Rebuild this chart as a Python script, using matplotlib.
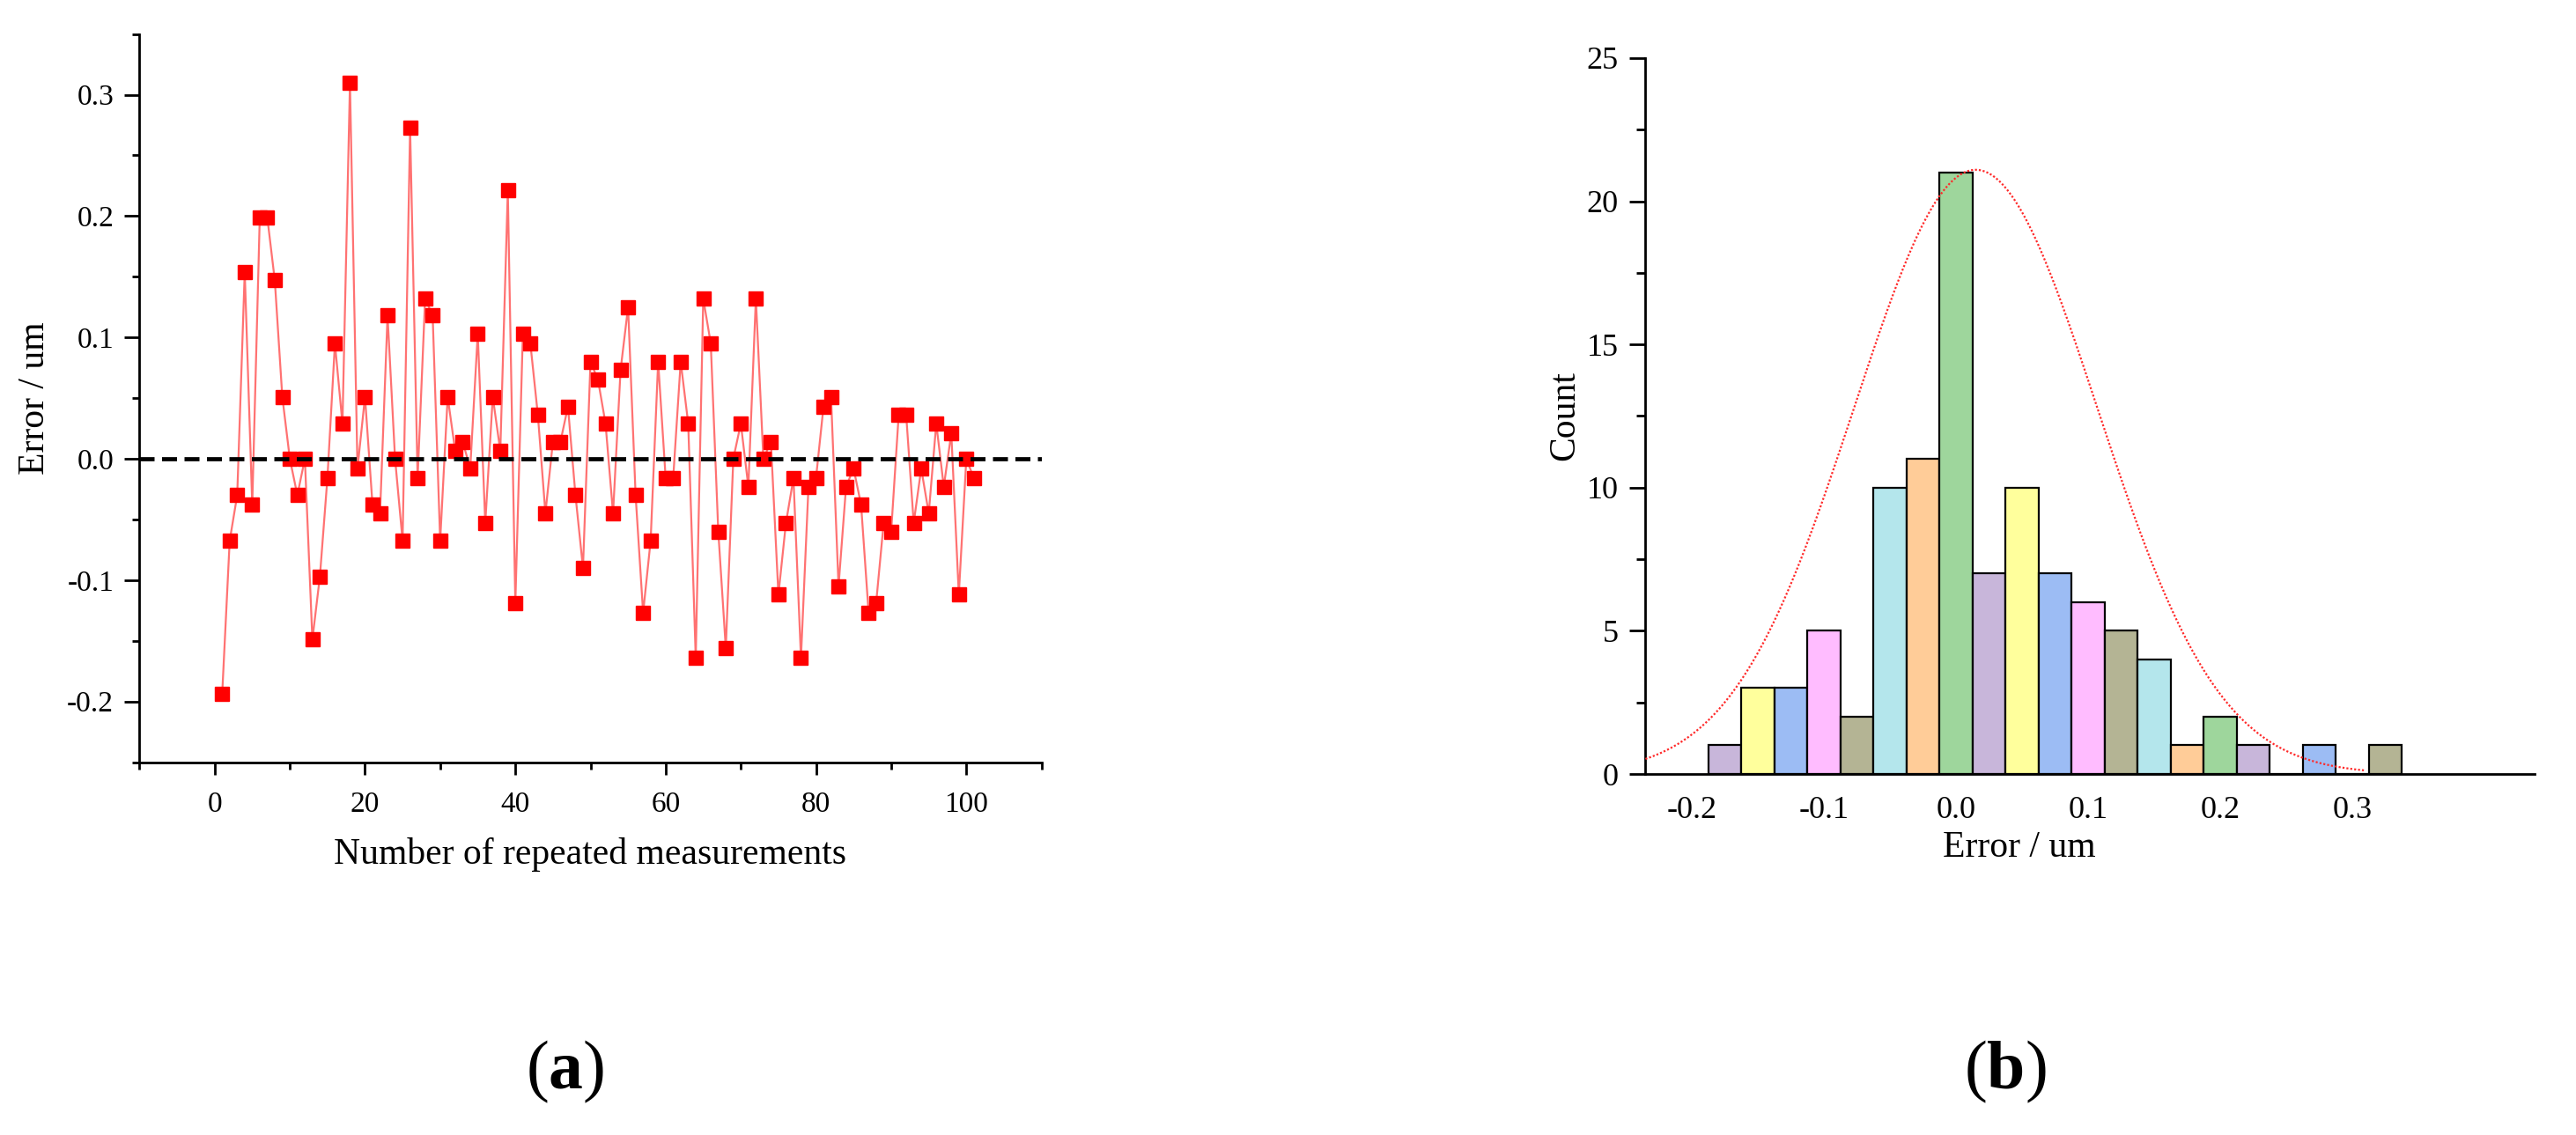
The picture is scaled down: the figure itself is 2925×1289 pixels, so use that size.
import numpy as np
import matplotlib
matplotlib.use("Agg")
import matplotlib.pyplot as plt
from matplotlib.ticker import MultipleLocator, FixedLocator

# ---------------- data ----------------
measurement_index = list(range(1, 102))
errors = [
    -0.194, -0.0675, -0.030, 0.154, -0.038, 0.199, 0.199, 0.147, 0.051, 0.0,
    -0.030, 0.0, -0.149, -0.097, -0.016, 0.095, 0.029, 0.310, -0.008, 0.051,
    -0.038, -0.045, 0.118, 0.0, -0.0675, 0.273, -0.016, 0.132, 0.118, -0.0675,
    0.051, 0.0065, 0.014, -0.008, 0.103, -0.053, 0.051, 0.0065, 0.221, -0.119,
    0.103, 0.095, 0.036, -0.045, 0.014, 0.014, 0.043, -0.030, -0.090, 0.080,
    0.065, 0.029, -0.045, 0.073, 0.125, -0.030, -0.127, -0.0675, 0.080, -0.016,
    -0.016, 0.080, 0.029, -0.164, 0.132, 0.095, -0.060, -0.156, 0.0, 0.029,
    -0.023, 0.132, 0.0, 0.014, -0.112, -0.053, -0.016, -0.164, -0.023, -0.016,
    0.043, 0.051, -0.105, -0.023, -0.008, -0.038, -0.127, -0.119, -0.053, -0.060,
    0.036, 0.036, -0.053, -0.008, -0.045, 0.029, -0.023, 0.021, -0.112, 0.0,
    -0.016,
]

bin_centers = [-0.175, -0.15, -0.125, -0.1, -0.075, -0.05, -0.025, 0.0, 0.025,
               0.05, 0.075, 0.1, 0.125, 0.15, 0.175, 0.2, 0.225, 0.25, 0.275,
               0.3, 0.325]
bin_counts = [1, 3, 3, 5, 2, 10, 11, 21, 7, 10, 7, 6, 5, 4, 1, 2, 1, 0, 1, 0, 1]
bin_width = 0.025
bar_colors = ["#C8B6DA", "#FFFF9C", "#9CBCF4", "#FFBCFF",
              "#B4B494", "#B4E6EC", "#FFCC98", "#9ED69C"]

# normal-curve parameters
fit_mean = 0.015
fit_sigma = 0.092
fit_peak = 21.1
fit_start, fit_end = -0.235, 0.309

left_xticks = [0, 20, 40, 60, 80, 100]
left_yticks = [-0.2, -0.1, 0.0, 0.1, 0.2, 0.3]
right_xticks = [-0.2, -0.1, 0.0, 0.1, 0.2, 0.3]
right_yticks = [0, 5, 10, 15, 20, 25]

# ---------------- style ----------------
plt.rcParams["font.family"] = ["Liberation Serif", "DejaVu Serif"]
plt.rcParams["mathtext.fontset"] = "custom"
plt.rcParams["mathtext.rm"] = "Liberation Serif"
plt.rcParams["mathtext.bf"] = "Liberation Serif:bold"

W, H = 2925, 1289
fig = plt.figure(figsize=(W / 100, H / 100), dpi=100)

# ---------------- panel (a) ----------------
ax1 = fig.add_axes([158.4 / W, 1 - 865.5 / H, (1182.6 - 158.4) / W, (865.5 - 38.7) / H])
ax1.plot(measurement_index, errors, color="#ff7272", lw=1.6, zorder=2)
ax1.plot(measurement_index, errors, ls="none", marker="s", ms=11,
         color="#ff0000", mec="#ff0000", zorder=3)
ax1.axhline(0, color="black", lw=3.4, dashes=(3.6, 1.8), zorder=4)

ax1.set_xlim(-10, 110)
ax1.set_ylim(-0.25, 0.35)
ax1.xaxis.set_major_locator(FixedLocator(left_xticks))
ax1.xaxis.set_minor_locator(MultipleLocator(10))
ax1.yaxis.set_major_locator(FixedLocator(left_yticks))
ax1.yaxis.set_minor_locator(MultipleLocator(0.05))
ax1.set_yticklabels([f"{v:.1f}" for v in left_yticks])
for s in ("top", "right"):
    ax1.spines[s].set_visible(False)
for s in ("left", "bottom"):
    ax1.spines[s].set_linewidth(2.0)
ax1.tick_params(axis="y", which="major", direction="out", length=12, width=2,
                labelsize=24, pad=9)
ax1.tick_params(axis="y", which="minor", direction="out", length=6, width=2)
ax1.tick_params(axis="x", which="major", direction="out", length=10, width=2,
                labelsize=24, pad=14)
ax1.tick_params(axis="x", which="minor", direction="out", length=6, width=2)

ax1.set_xlabel("Number of repeated measurements", fontsize=30)
ax1.xaxis.set_label_coords(0.5, -0.1264)
ax1.xaxis.label.set_va("center")
ax1.set_ylabel("Error / um", fontsize=30)
ax1.yaxis.set_label_coords((40 - 158.4) / (1182.6 - 158.4), 0.5)
ax1.yaxis.label.set_va("center")

# ---------------- panel (b) ----------------
ax2 = fig.add_axes([1868.4 / W, 1 - 879 / H, (2877.8 - 1868.4) / W, (879 - 66) / H])
colors = [bar_colors[i % len(bar_colors)] for i in range(len(bin_counts))]
ax2.bar(bin_centers, bin_counts, width=bin_width, color=colors,
        edgecolor="black", linewidth=1.6, zorder=2)
xs = np.linspace(fit_start, fit_end, 400)
ys = fit_peak * np.exp(-0.5 * ((xs - fit_mean) / fit_sigma) ** 2)
ax2.plot(xs, ys, color="#ff2a2a", lw=1.6, ls=(0, (1, 1)), zorder=3)

ax2.set_xlim(-0.235, 0.438)
ax2.set_ylim(0, 25)
ax2.xaxis.set_major_locator(FixedLocator(right_xticks))
ax2.set_xticklabels([f"{v:.1f}" for v in right_xticks])
ax2.yaxis.set_major_locator(FixedLocator(right_yticks))
ax2.yaxis.set_minor_locator(MultipleLocator(2.5))
for s in ("top", "right"):
    ax2.spines[s].set_visible(False)
for s in ("left", "bottom"):
    ax2.spines[s].set_linewidth(2.0)
ax2.tick_params(axis="x", which="both", length=0, labelsize=26, pad=18)
ax2.tick_params(axis="y", which="major", direction="out", length=13, width=2,
                labelsize=26, pad=9)
ax2.tick_params(axis="y", which="minor", direction="out", length=7, width=2)

ax2.set_xlabel("Error / um", fontsize=30)
ax2.xaxis.set_label_coords((2293 - 1868.4) / (2877.8 - 1868.4), (879 - 963) / 813)
ax2.xaxis.label.set_va("center")
ax2.set_ylabel("Count", fontsize=30)
ax2.yaxis.set_label_coords((1777 - 1868.4) / (2877.8 - 1868.4), 0.5)
ax2.yaxis.label.set_va("center")

# ---------------- panel labels ----------------
fig.text(642 / W, 1 - 1217 / H, r"$\mathrm{(}\mathbf{a}\mathrm{)}$",
         fontsize=56, ha="center", va="center")
fig.text(2277 / W, 1 - 1217 / H, r"$\mathrm{(}\mathbf{b}\mathrm{)}$",
         fontsize=56, ha="center", va="center")

fig.savefig("out.png", dpi=100)
